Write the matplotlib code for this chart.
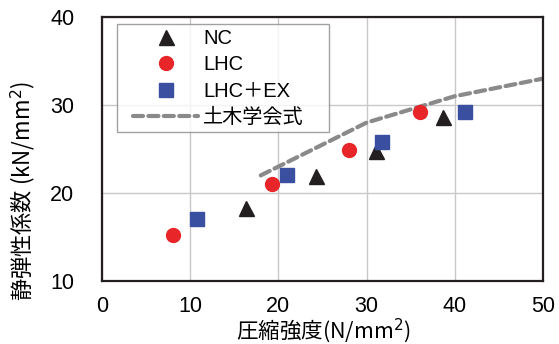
import matplotlib.pyplot as plt
from matplotlib.lines import Line2D
from matplotlib.legend_handler import HandlerLine2D

plt.rcParams['font.family'] = ['Liberation Sans', 'Noto Sans CJK JP', 'DejaVu Sans']

# compressive strength (N/mm2) vs static modulus (kN/mm2)
nc_x = [16.3, 24.3, 31.1, 38.7]
nc_y = [18.3, 21.9, 24.8, 28.6]
lhc_x = [8.0, 19.3, 28.0, 36.1]
lhc_y = [15.2, 21.0, 24.9, 29.2]
ex_x = [10.8, 21.0, 31.7, 41.1]
ex_y = [17.0, 22.1, 25.8, 29.2]
# JSCE standard values
jsce_x = [18, 24, 30, 40, 50]
jsce_y = [22, 25, 28, 31, 33]

black = '#231f20'
red = '#e8262a'
blue = '#3a4fa0'
gray = '#8a8a8a'
dash = (0, (2.4, 1.3))

fig = plt.figure(figsize=(5.59, 3.44), dpi=100)
ax = fig.add_axes([102 / 559, 1 - 281 / 344, 441 / 559, 264 / 344])

ax.plot(jsce_x, jsce_y, color=gray, lw=3, ls=dash, dash_capstyle='round', zorder=2)
ax.plot(nc_x, nc_y, '^', color=black, ms=10.8, ls='none', zorder=3)
ax.plot(lhc_x, lhc_y, 'o', color=red, ms=10, ls='none', zorder=3)
ax.plot(ex_x, ex_y, 's', color=blue, ms=10.2, ls='none', zorder=3)

ax.set_xlim(0, 50)
ax.set_ylim(10, 40)
ax.set_xticks([0, 10, 20, 30, 40, 50])
ax.set_yticks([10, 20, 30, 40])
ax.grid(color='#c8c8c8', lw=1)
ax.set_axisbelow(True)
ax.tick_params(length=0, labelsize=15.5)
ax.tick_params(axis='y', pad=20)
ax.tick_params(axis='x', pad=11)
for s in ax.spines.values():
    s.set_linewidth(1.6)
    s.set_color(black)

ax.set_xlabel('圧縮強度(N/mm$^2$)', fontsize=15.5,
              family=['Noto Sans CJK JP', 'DejaVu Sans'])
ax.set_ylabel('静弾性係数 (kN/mm$^2$)', fontsize=16,
              family=['Noto Sans CJK JP', 'DejaVu Sans'])
ax.xaxis.set_label_coords(0.503, -0.133)
ax.yaxis.set_label_coords(-0.147, 0.34)

handles = [
    Line2D([], [], marker='^', color=black, ms=10.8, ls='none'),
    Line2D([], [], marker='o', color=red, ms=10, ls='none'),
    Line2D([], [], marker='s', color=blue, ms=10.2, ls='none'),
    Line2D([], [], color=gray, lw=3, ls=dash, dash_capstyle='round'),
]
labels = ['NC', 'LHC', 'LHC＋EX', '土木学会式']
leg = ax.legend(handles, labels, loc='upper left',
                bbox_to_anchor=(0.034, 0.5, 0.481, 0.473), mode='expand',
                borderaxespad=0, frameon=True, fancybox=False, handlelength=3.78,
                labelspacing=0.36, borderpad=0.25, handletextpad=0.25,
                handler_map={Line2D: HandlerLine2D(xpad=0.55)},
                prop={'family': ['Liberation Sans', 'Noto Sans CJK JP'], 'size': 14.5})
leg.get_frame().set_edgecolor(gray)
leg.get_frame().set_linewidth(1)

fig.savefig('out.png', dpi=100)
